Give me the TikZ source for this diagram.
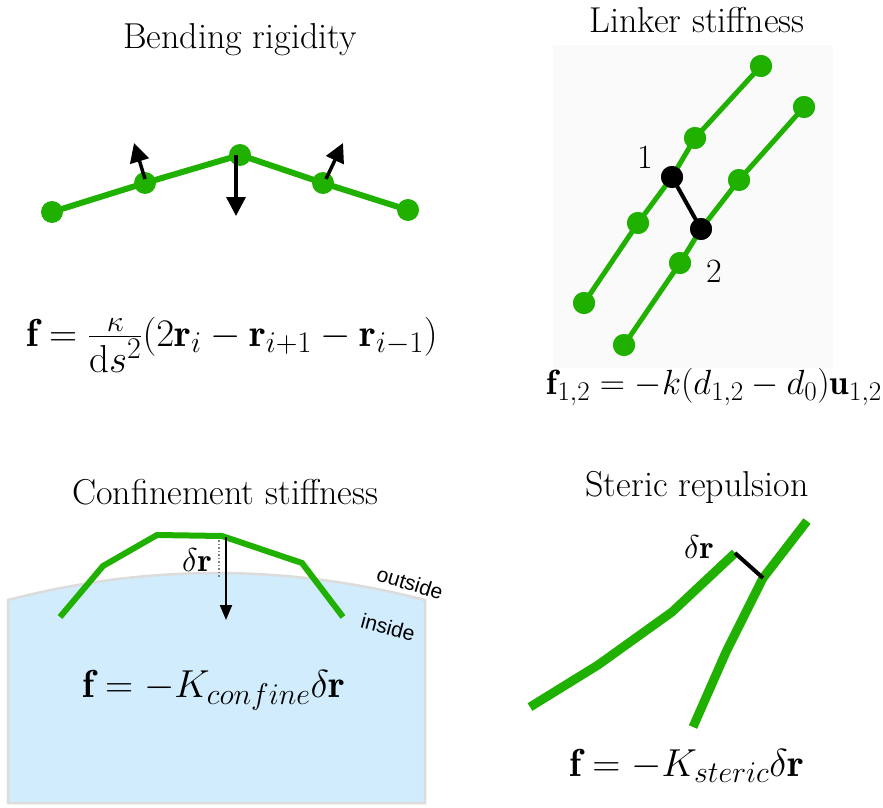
\RequirePackage{fix-cm}
\documentclass[tikz,border=0pt]{standalone}
\usepackage{amsmath,amssymb}
\usepackage{fontspec}
\newfontfamily\sidefont{Liberation Sans}
\usepackage{tikz}
\usetikzlibrary{arrows.meta,positioning,calc}
\definecolor{Chain}{HTML}{1FB000}
\definecolor{Inner}{HTML}{D1ECFC}
\definecolor{Rim}{HTML}{DCDCDC}
\definecolor{Panel}{HTML}{FAFAFA}
\DeclareMathSizes{39}{39}{30}{23}
\DeclareMathSizes{35}{35}{27}{21}

\tikzset{
  bead/.style={circle,fill=Chain,inner sep=0pt,minimum size=22pt},
  linkbead/.style={circle,fill=black,inner sep=0pt,minimum size=22pt},
  rod/.style={Chain,line width=6pt},
  thickrod/.style={Chain,line width=9pt},
  title/.style={font=\fontsize{36}{43}\selectfont},
  formula/.style={font=\fontsize{39}{46}\selectfont},
  tag/.style={font=\fontsize{34}{40}\selectfont},
  gaplabel/.style={font=\fontsize{33}{40}\selectfont},
  side/.style={font=\sidefont\fontsize{21}{25}\selectfont},
  force/.style={line width=3.5pt,-{Triangle[length=19pt,width=19pt]}},
  push/.style={line width=2pt,-{Triangle[length=15pt,width=12pt]}},
}

\begin{document}
\begin{tikzpicture}[x=1pt,y=-1pt]
\useasboundingbox[fill=white] (0,0) rectangle (883,808);

% bending rigidity
\node[title] (bendtitle) at (240,40) {Bending rigidity};
\node[bead] (b1) at (52,212) {};
\node[bead] (b2) at (145,183) {};
\node[bead] (b3) at (240,155) {};
\node[bead] (b4) at (323,183) {};
\node[bead] (b5) at (408,210) {};
\draw[rod] (b1.center) -- (b2.center) -- (b3.center) -- (b4.center) -- (b5.center);
\coordinate (t2) at (134,143);
\coordinate (t3) at (236,216);
\coordinate (t4) at (343,143);
\draw[force] ($(b2.center)+(0,-4)$) -- (t2);
\draw[force] ($(b3.center)+(-4,0)$) -- (t3);
\draw[force] ($(b4.center)+(3,-4)$) -- (t4);
\node[formula] (bendf) at (232,345) {$\mathbf{f} = \frac{\kappa}{\textstyle\mathrm{d}s^2}(2\mathbf{r}_i - \mathbf{r}_{i+1} - \mathbf{r}_{i-1})$};

% linker stiffness
\fill[Panel] (553,45) rectangle (833,368);
\node[title] (linktitle) at (697,20) {Linker stiffness};
\node[bead] (p1) at (584,303) {};
\node[bead] (p2) at (638,223) {};
\node[linkbead] (p3) at (672,177) {};
\node[bead] (p4) at (695,138) {};
\node[bead] (p5) at (761,66) {};
\node[bead] (q1) at (624,345) {};
\node[bead] (q2) at (680,263) {};
\node[linkbead] (q3) at (701,229) {};
\node[bead] (q4) at (739,180) {};
\node[bead] (q5) at (804,107) {};
\draw[rod,line width=5pt] (p1.center) -- (p2.center) -- (p3.center) -- (p4.center) -- (p5.center);
\draw[rod,line width=5pt] (q1.center) -- (q2.center) -- (q3.center) -- (q4.center) -- (q5.center);
\foreach \b in {p1,p2,p4,p5,q1,q2,q4,q5} \fill[Chain] (\b) circle (11);
\draw[line width=4pt] (p3.center) -- (q3.center);
\fill (p3) circle (11);
\fill (q3) circle (11);
\node[tag] (one) at (645,157) {1};
\node[tag] (two) at (714,271) {2};
\node[formula,font=\fontsize{35}{42}\selectfont,anchor=east,inner sep=0pt] (linkf) at (882,387) {$\mathbf{f}_{1,2} = -k(d_{1,2} - d_0)\mathbf{u}_{1,2}$};

% confinement stiffness
\node[title] (conftitle) at (225,492) {Confinement stiffness};
\filldraw[fill=Inner,draw=Rim,line width=2.5pt] (8,600) .. controls (147,564) and (286,564) .. (425,600) -- (425,803) -- (8,803) -- cycle;
\coordinate (c1) at (60,617);
\coordinate (c2) at (103,566);
\coordinate (c3) at (157,535);
\coordinate (c4) at (222,536);
\coordinate (c5) at (302,563);
\coordinate (c6) at (343,617);
\draw[rod] (c1) -- (c2) -- (c3) -- (c4) -- (c5) -- (c6);
\coordinate (d1) at (219,540);
\coordinate (d2) at (219,578);
\draw[gray,dotted,line width=1.5pt] (d1) -- (d2);
\coordinate (a1) at (226,537);
\coordinate (a2) at (226,620);
\draw[push] (a1) -- (a2);
\node[gaplabel] (confdr) at (197,560) {$\delta\mathbf{r}$};
\node[side,rotate=-17,inner sep=0pt] (outside) at (410,583) {outside};
\node[side,rotate=-15,inner sep=0pt] (inside) at (388,627) {inside};
\node[formula] (conff) at (214,690) {$\mathbf{f} = -K_{confine}\delta\mathbf{r}$};

% steric repulsion
\node[title] (sterictitle) at (697,487) {Steric repulsion};
\coordinate (s1) at (530,707);
\coordinate (s2) at (598,665);
\coordinate (s3) at (672,612);
\coordinate (s4) at (735,553);
\coordinate (r1) at (693,727);
\coordinate (r2) at (726,652);
\coordinate (r3) at (763,578);
\coordinate (r4) at (807,521);
\draw[thickrod] (s1) -- (s2) -- (s3) -- (s4);
\draw[thickrod] (r1) -- (r2) -- (r3) -- (r4);
\draw[line width=4pt] (s4) -- (r3);
\node[gaplabel] (stericdr) at (699,547) {$\delta\mathbf{r}$};
\node[formula] (stericf) at (687,766) {$\mathbf{f} = -K_{steric}\delta\mathbf{r}$};
\end{tikzpicture}
\end{document}
